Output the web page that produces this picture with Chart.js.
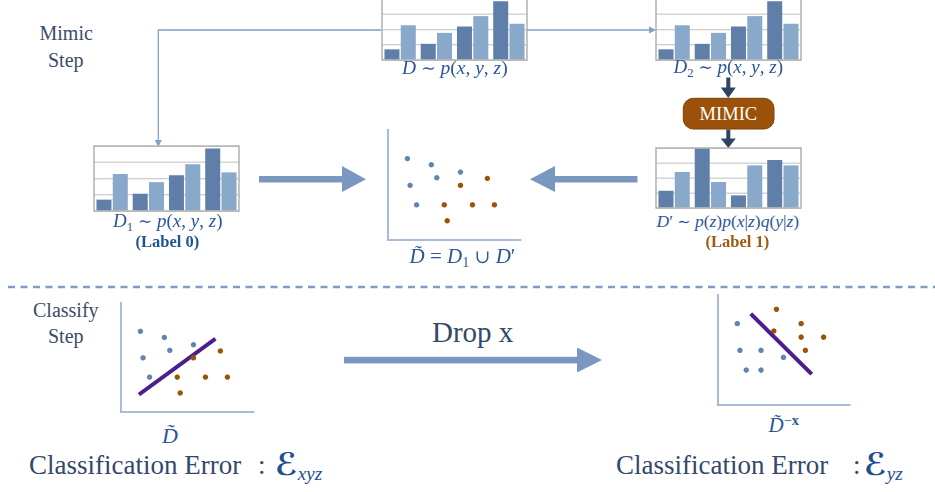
<!DOCTYPE html>
<html><head><meta charset="utf-8">
<script src="https://cdn.jsdelivr.net/npm/chart.js@4.4.1/dist/chart.umd.min.js"></script>
<style>
html,body{margin:0;padding:0;background:#fff;}
#root{position:relative;width:935px;height:492px;overflow:hidden;background:#fff;}
#root canvas{position:absolute;}
#deco{position:absolute;left:0;top:0;}
.t{position:absolute;white-space:nowrap;line-height:1;font-family:"Liberation Serif","DejaVu Serif",serif;}
.t i{font-style:italic;}
.sb{font-size:0.68em;position:relative;top:0.28em;line-height:0;}
.sp{font-size:0.68em;position:relative;top:-0.5em;line-height:0;}
.sym{font-family:"DejaVu Serif",serif;font-size:0.9em;}
</style></head>
<body><div id="root">
<svg id="deco" width="935" height="492" xmlns="http://www.w3.org/2000/svg">
  <line x1="8" y1="287" x2="935" y2="287" stroke="#7f9cc6" stroke-width="2.6" stroke-dasharray="7,5.5"/>
  <polyline points="381,30 158.3,30 158.3,141" fill="none" stroke="#7fa0cc" stroke-width="1.3"/>
  <polygon points="154.8,140 161.8,140 158.3,147" fill="#7fa0cc"/>
  <line x1="527" y1="30" x2="650" y2="30" stroke="#7fa0cc" stroke-width="1.3"/>
  <polygon points="649,26.5 649,33.5 656,30" fill="#7fa0cc"/>
  <rect x="259" y="176" width="84" height="6.5" fill="#7a98bf"/>
  <polygon points="342,166 366,179.2 342,192" fill="#7a98bf"/>
  <rect x="554" y="176" width="83.5" height="6.5" fill="#7a98bf"/>
  <polygon points="555,166 530,179.2 555,192" fill="#7a98bf"/>
  <rect x="344" y="356.8" width="234" height="6.6" fill="#7a98bf"/>
  <polygon points="577,347.5 602,360 577,372.5" fill="#7a98bf"/>
  <rect x="726.3" y="77.5" width="4" height="11" fill="#2f4463"/>
  <polygon points="720.8,87.5 735.8,87.5 728.3,98" fill="#2f4463"/>
  <rect x="726.3" y="129.5" width="4" height="10" fill="#2f4463"/>
  <polygon points="720.8,138.5 735.8,138.5 728.3,148" fill="#2f4463"/>
  <rect x="683.3" y="98.3" width="90.7" height="30.7" rx="10" ry="10" fill="#9b5109" stroke="#7e4106" stroke-width="1"/>
</svg>
</div>
<script>
// ---- data ----
const barCategories = ['c1', 'c2', 'c3', 'c4'];
const jointDark  = [0.70, 1.06, 2.20, 3.85];
const jointLight = [2.28, 1.78, 2.88, 2.38];
const mimicDark  = [1.15, 3.95, 0.84, 3.20];
const mimicLight = [2.40, 1.73, 2.84, 2.84];

const label0X = [1.46, 3.26, 5.45, 1.66, 3.67, 2.15];
const label0Y = [7.40, 6.84, 6.17, 4.97, 5.66, 3.20];
const label1X = [7.47, 5.45, 4.23, 6.35, 8.00, 4.45];
const label1Y = [5.60, 4.97, 3.20, 3.20, 3.20, 1.75];

const boundaryXYZ_X = [1.35, 7.10];
const boundaryXYZ_Y = [1.60, 6.72];

const dropLabel0X = [1.46, 1.66, 3.26, 4.96, 2.14, 3.26];
const dropLabel0Y = [7.40, 4.97, 4.97, 4.33, 3.18, 3.18];
const dropLabel1X = [4.43, 6.30, 4.23, 6.30, 8.00, 6.62];
const dropLabel1Y = [8.71, 7.40, 6.73, 6.17, 6.17, 4.97];
const boundaryYZ_X = [2.48, 7.10];
const boundaryYZ_Y = [8.30, 2.80];

// ---- helpers ----
const root = document.getElementById('root');
const DARK = '#5f7fa9', LIGHT = '#88a9c9';
const BLUE_PT = '#6185b0', ORANGE_PT = '#9b5407', LINE = '#4b1f8e';

const framePlugin = {
  id: 'frame',
  afterDatasetsDraw(c, a, o) {
    if (!o || !o.on) return;
    const {left, right, top, bottom} = c.chartArea;
    const ctx = c.ctx;
    ctx.save();
    ctx.strokeStyle = '#ababab';
    ctx.lineWidth = 1.4;
    ctx.strokeRect(left, top, right - left, bottom - top);
    ctx.restore();
  }
};
Chart.register(framePlugin);

function mkCanvas(left, top, w, h) {
  const cv = document.createElement('canvas');
  cv.style.left = left + 'px'; cv.style.top = top + 'px';
  cv.style.width = w + 'px'; cv.style.height = h + 'px';
  cv.width = w; cv.height = h;
  root.appendChild(cv);
  return cv;
}

function barChart(left, top, w, h, dark, light) {
  const cv = mkCanvas(left, top, w, h);
  new Chart(cv, {
    type: 'bar',
    data: {labels: barCategories, datasets: [
      {data: dark, backgroundColor: DARK, borderWidth: 0},
      {data: light, backgroundColor: LIGHT, borderWidth: 0}
    ]},
    options: {
      responsive: false, animation: false, devicePixelRatio: 2,
      layout: {padding: 1},
      plugins: {legend: {display: false}, tooltip: {enabled: false}, frame: {on: true}},
      datasets: {bar: {categoryPercentage: 0.9, barPercentage: 0.92}},
      scales: {
        x: {display: false},
        y: {min: 0, max: 4, display: true,
            grid: {color: '#d0d0d0', lineWidth: 1.4, drawTicks: false},
            ticks: {display: false, stepSize: 1},
            border: {display: false}}
      }
    }
  });
}

function pts(xs, ys) { return xs.map((x, i) => ({x: x, y: ys[i]})); }

function scatterChart(left, top, w, h, bx, by, ox, oy, lx, ly) {
  const cv = mkCanvas(left, top, w, h);
  const ds = [
    {data: pts(bx, by), backgroundColor: BLUE_PT, borderWidth: 0, pointRadius: 2.7},
    {data: pts(ox, oy), backgroundColor: ORANGE_PT, borderWidth: 0, pointRadius: 2.7}
  ];
  if (lx) ds.push({type: 'line', data: pts(lx, ly), borderColor: LINE, borderWidth: 4,
                   pointRadius: 0, borderCapStyle: 'butt', fill: false});
  const ax = {min: 0, max: 10, display: true,
              grid: {display: false, drawTicks: false},
              ticks: {display: false},
              border: {display: true, color: '#a8bcd7', width: 2}};
  new Chart(cv, {
    type: 'scatter',
    data: {datasets: ds},
    options: {
      responsive: false, animation: false, devicePixelRatio: 2,
      layout: {padding: {left: 2, top: 2, right: 2, bottom: 2}},
      plugins: {legend: {display: false}, tooltip: {enabled: false}},
      clip: false,
      scales: {x: Object.assign({}, ax), y: Object.assign({}, ax)}
    }
  });
}

function T(html, x, baseline, size, opts) {
  opts = opts || {};
  const d = document.createElement('div');
  d.className = 't';
  d.innerHTML = html;
  d.style.fontSize = size + 'px';
  d.style.top = (baseline - 0.845 * size) + 'px';
  d.style.color = opts.color || '#2b5797';
  if (opts.weight) d.style.fontWeight = opts.weight;
  if (opts.family) d.style.fontFamily = opts.family;
  root.appendChild(d);
  if (opts.align === 'c') d.style.left = (x - d.offsetWidth / 2) + 'px';
  else d.style.left = x + 'px';
  return d;
}

// ---- bar charts ----
barChart(381, -2, 147, 63, jointDark, jointLight);   // D
barChart(655, -2, 147, 63, jointDark, jointLight);   // D2
barChart(93, 145, 147, 67, jointDark, jointLight);   // D1
barChart(655, 147, 147, 62, mimicDark, mimicLight);  // D'

// ---- scatter charts ----
scatterChart(384, 126, 141, 118, label0X, label0Y, label1X, label1Y);
scatterChart(117.3, 299, 141, 117.3, label0X, label0Y, label1X, label1Y, boundaryXYZ_X, boundaryXYZ_Y);
scatterChart(714, 291.3, 140, 117.7, dropLabel0X, dropLabel0Y, dropLabel1X, dropLabel1Y, boundaryYZ_X, boundaryYZ_Y);

// ---- texts ----
const HEAD = '#3b4c6b';
T('Mimic', 66, 39.5, 20, {align: 'c', color: HEAD});
T('Step', 66, 67, 20, {align: 'c', color: HEAD});
T('Classify', 66, 317, 20, {align: 'c', color: HEAD});
T('Step', 66, 343, 20, {align: 'c', color: HEAD});

T('MIMIC', 728.6, 121, 18.5, {align: 'c', color: '#ffffff'});

const pxyz = '<i>p</i>(<i>x</i>, <i>y</i>, <i>z</i>)';
T('<i>D</i> <span class="sym">∼</span> ' + pxyz, 455, 74, 19.5, {align: 'c'});
T('<i>D</i><span class="sb">2</span> <span class="sym">∼</span> ' + pxyz, 728, 73, 19, {align: 'c'});
T('<i>D</i><span class="sb">1</span> <span class="sym">∼</span> ' + pxyz, 167.5, 227.5, 19, {align: 'c'});
T('(Label 0)', 167.5, 247.5, 16.5, {align: 'c', weight: 'bold', color: '#1e5592'});
T('<i>D</i>′ <span class="sym">∼</span> <i>p</i>(<i>z</i>)<i>p</i>(<i>x</i>|<i>z</i>)<i>q</i>(<i>y</i>|<i>z</i>)', 728, 228, 17.5, {align: 'c'});
T('(Label 1)', 737.5, 247.5, 16.5, {align: 'c', weight: 'bold', color: '#a05a10'});

const Dt = '<i>D\u0303</i>';
T(Dt + ' = <i>D</i><span class="sb">1</span> <span class="sym">∪</span> <i>D</i>′', 462.5, 264, 21, {align: 'c'});
T(Dt, 170, 444, 22, {align: 'c'});
T(Dt + '<span class="sp">−<b>x</b></span>', 783.5, 433, 21, {align: 'c'});

T('Drop x', 432, 343, 29, {color: '#35476a'});

const ERR = '#34486b';
const SCR = '<span style="font-family:\'DejaVu Sans\';font-weight:bold">ℰ</span>';
T('Classification Error', 29, 475, 27, {color: ERR});
T(':', 258, 475, 27, {color: ERR});
T(SCR + '<span class="sb" style="font-size:0.62em;top:0.25em"><i>xyz</i></span>', 275, 475, 31, {color: '#1f4f92'});
T('Classification Error', 616, 475, 27, {color: ERR});
T(':', 853, 475, 27, {color: ERR});
T(SCR + '<span class="sb" style="font-size:0.62em;top:0.25em"><i>yz</i></span>', 864, 475, 31, {color: '#1f4f92'});
</script>
</body></html>
